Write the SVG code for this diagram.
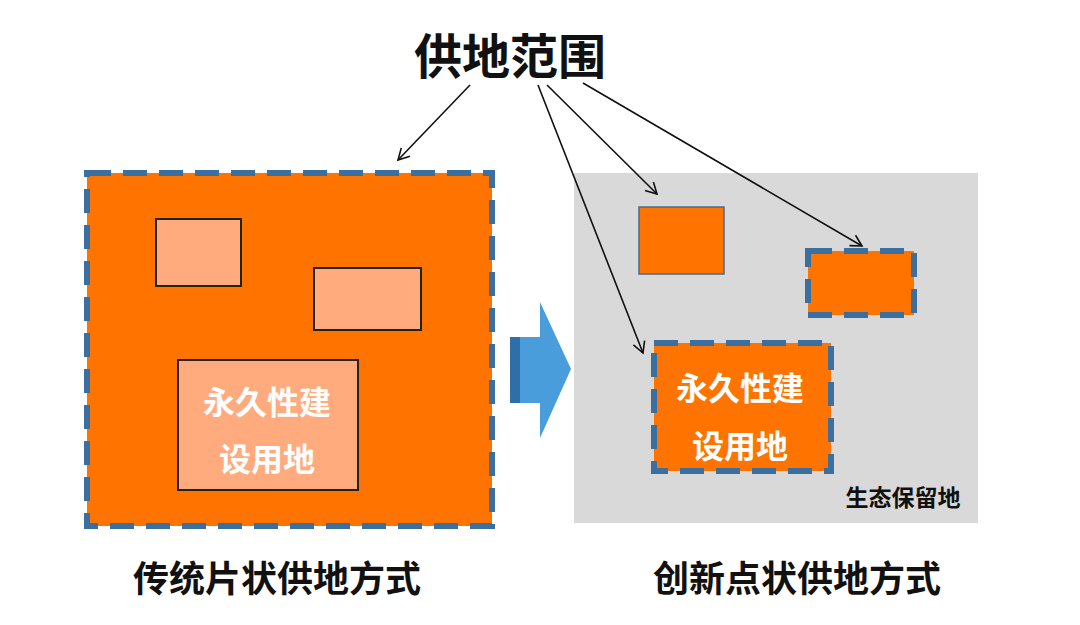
<svg xmlns="http://www.w3.org/2000/svg" width="1080" height="625" viewBox="0 0 1080 625">
<defs>
<marker id="ah" markerWidth="14" markerHeight="14" refX="12" refY="7" orient="auto" markerUnits="userSpaceOnUse"><path d="M1,1 L12,7 L1,13" fill="none" stroke="#111" stroke-width="1.6"/></marker>
<style>
.t{font-family:"Noto Sans CJK SC","Noto Sans",sans-serif;font-weight:bold}
.dash{stroke:#3b6fa0;stroke-width:6;stroke-dasharray:24,12;fill:#ff7300}
.lt{fill:#ffab7d;stroke:#222;stroke-width:2}
.c{stroke:#111;stroke-width:1.6;fill:none;marker-end:url(#ah)}
</style>
</defs>
<rect width="1080" height="625" fill="#fff"/>
<g id="left"><rect class="dash" x="87" y="173" width="405" height="353"/>
<rect class="lt" x="156" y="219" width="85" height="67"/>
<rect class="lt" x="314" y="268" width="107" height="62"/>
<rect class="lt" x="178" y="360" width="180" height="130"/>
<text class="t" x="267" y="414" font-size="32" fill="#fff" text-anchor="middle">永久性建</text>
<text class="t" x="267" y="471" font-size="32" fill="#fff" text-anchor="middle">设用地</text></g>
<g id="arrow"><path d="M510,337 L540,337 L540,302 L571,369 L540,438 L540,403 L510,403 Z" fill="#4a9ddb"/><rect x="510" y="337" width="10" height="66" fill="#2f6fa8"/></g>
<g id="right"><rect x="574" y="173" width="404" height="350" fill="#d9d9d9"/>
<rect x="639" y="207" width="85" height="67" fill="#ff7300" stroke="#4a6b8a" stroke-width="1.5"/>
<rect class="dash" x="808" y="251" width="106" height="64"/>
<rect class="dash" x="654" y="343" width="177" height="128"/>
<text class="t" x="740" y="400" font-size="32" fill="#fff" text-anchor="middle">永久性建</text>
<text class="t" x="740" y="458" font-size="32" fill="#fff" text-anchor="middle">设用地</text>
<text class="t" x="903" y="506" font-size="23" fill="#111" text-anchor="middle">生态保留地</text></g>
<text class="t" x="510" y="74" font-size="48" fill="#111" text-anchor="middle">供地范围</text>
<text class="t" x="277" y="592" font-size="36" fill="#111" text-anchor="middle">传统片状供地方式</text>
<text class="t" x="797" y="592" font-size="36" fill="#111" text-anchor="middle">创新点状供地方式</text>
<g id="connectors">
<line class="c" x1="470" y1="85" x2="398" y2="160"/>
<line class="c" x1="538" y1="85" x2="643" y2="353"/>
<line class="c" x1="547" y1="85" x2="657" y2="194"/>
<line class="c" x1="583" y1="83" x2="862" y2="246"/>
</g>
</svg>
